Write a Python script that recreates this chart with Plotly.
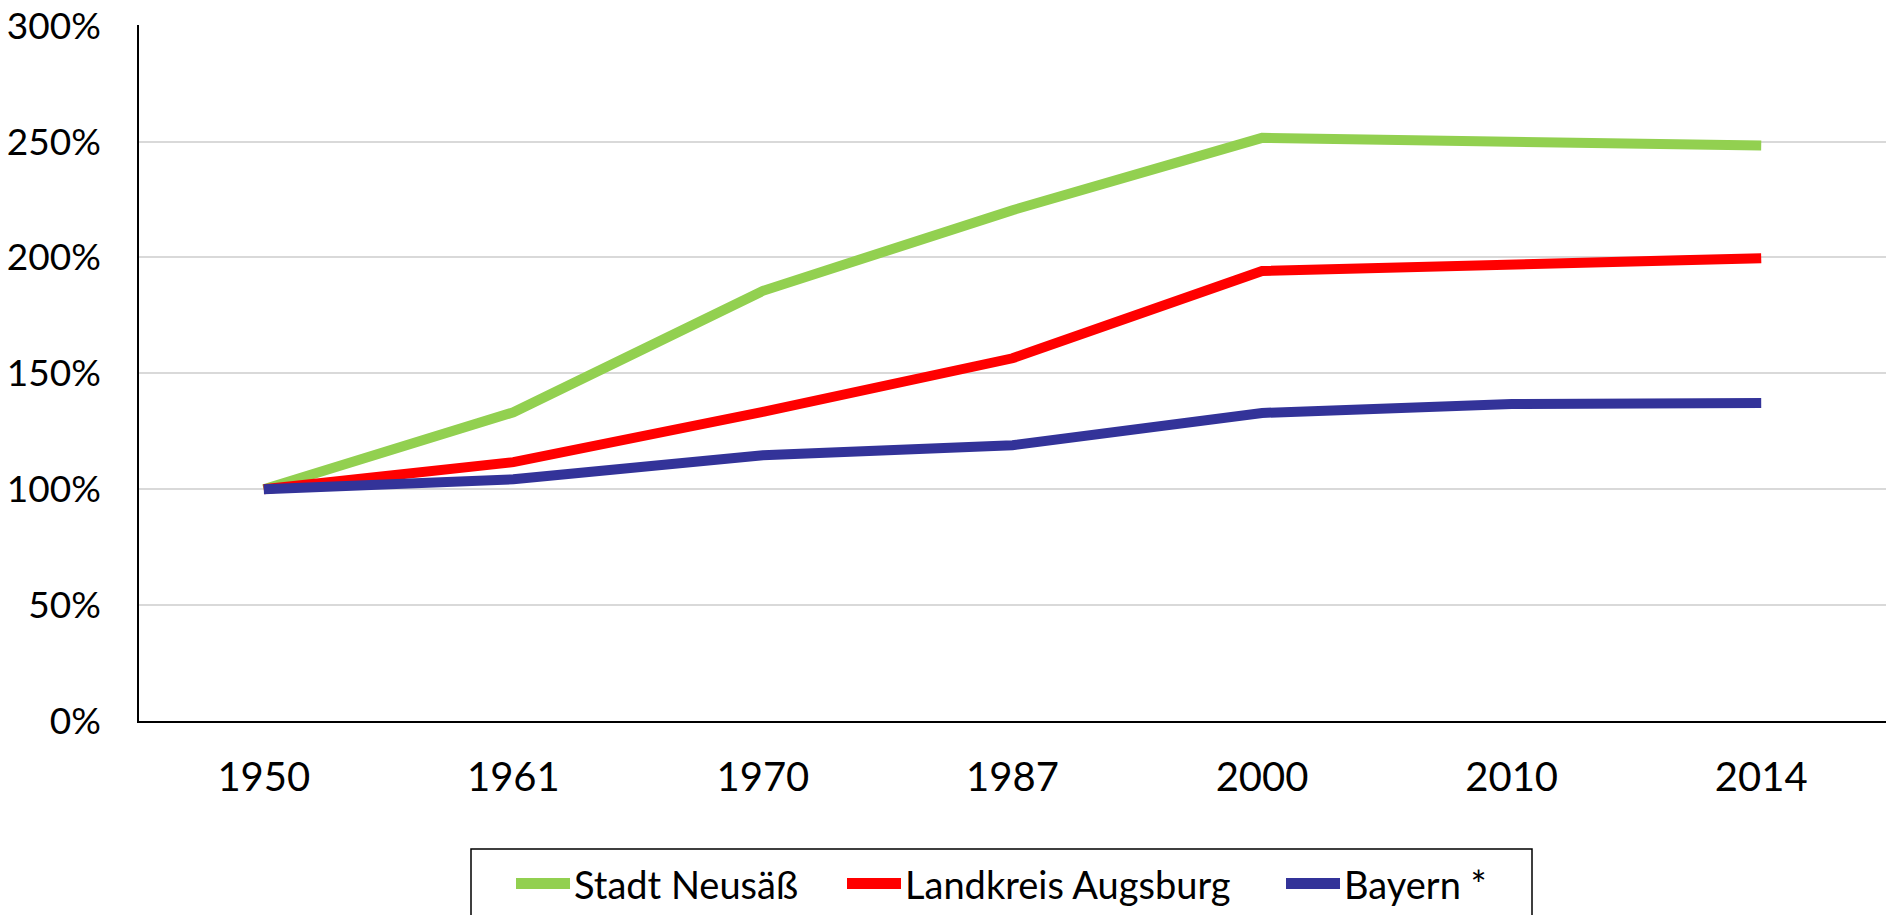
import plotly.graph_objects as go

years = ["1950", "1961", "1970", "1987", "2000", "2010", "2014"]
series_names = ["Stadt Neusäß", "Landkreis Augsburg", "Bayern *"]
neusaess = [100, 133.2, 185.6, 220.4, 251.6, 249.7, 248.3]
landkreis = [100, 111.7, 133.4, 156.5, 194.2, 197.1, 199.7]
bayern = [100, 104.3, 114.7, 119.0, 132.9, 136.8, 137.2]
y_ticks = [0, 50, 100, 150, 200, 250, 300]
y_tick_labels = ["0%", "50%", "100%", "150%", "200%", "250%", "300%"]
colors = ["#92D050", "#FF0000", "#333399"]

FONT = "Lato"
W, H = 1886, 915
L, T, R, B = 139, 25, 0, 194
PW, PH = W - L - R, H - T - B


def px_x(x):
    return (x - L) / PW


def px_y(y):
    return 1 - (y - T) / PH


fig = go.Figure()
for name, vals, col in zip(series_names, [neusaess, landkreis, bayern], colors):
    fig.add_trace(go.Scatter(x=years, y=vals, name=name, mode="lines",
                             line=dict(color=col, width=10), showlegend=False,
                             cliponaxis=False))

# legend drawn as box + line swatches + text
shapes = [dict(type="rect", xref="paper", yref="paper",
               x0=px_x(471), x1=px_x(1532), y0=px_y(849), y1=px_y(960),
               line=dict(color="black", width=1.5), fillcolor="rgba(0,0,0,0)")]
annotations = []
swatch_x = [512, 843, 1282]
for name, col, sx in zip(series_names, colors, swatch_x):
    shapes.append(dict(type="line", xref="paper", yref="paper",
                       x0=px_x(sx + 4), x1=px_x(sx + 58), y0=px_y(883.5), y1=px_y(883.5),
                       line=dict(color=col, width=11)))
    annotations.append(dict(text=name, xref="paper", yref="paper",
                            x=px_x(sx + 60), y=px_y(884), xanchor="left", yanchor="middle",
                            showarrow=False, font=dict(family=FONT, size=38, color="black")))

fig.update_layout(
    width=W, height=H,
    margin=dict(l=L, r=R, t=T, b=B, autoexpand=False, pad=0),
    paper_bgcolor="white", plot_bgcolor="white",
    font=dict(family=FONT, size=40, color="black"),
    showlegend=False,
    shapes=shapes, annotations=annotations,
)
fig.update_xaxes(type="category", range=[-0.5, 6.5], showline=True, linecolor="black",
                 linewidth=1.5, showgrid=False, ticks="", ticklabelstandoff=20,
                 tickfont=dict(family=FONT, size=40))
fig.update_yaxes(range=[0, 300.3], tickmode="array", tickvals=y_ticks, ticktext=y_tick_labels,
                 showline=True, linecolor="black", linewidth=1.5, showgrid=True,
                 gridcolor="#D9D9D9", gridwidth=1.5, zeroline=False, ticks="",
                 ticklabelstandoff=29, ticklabeloverflow="allow",
                 tickfont=dict(family=FONT, size=37))

fig.write_html("out.html", config={"displayModeBar": False},
               post_script="document.body.style.margin='0';document.body.style.overflow='hidden';")
